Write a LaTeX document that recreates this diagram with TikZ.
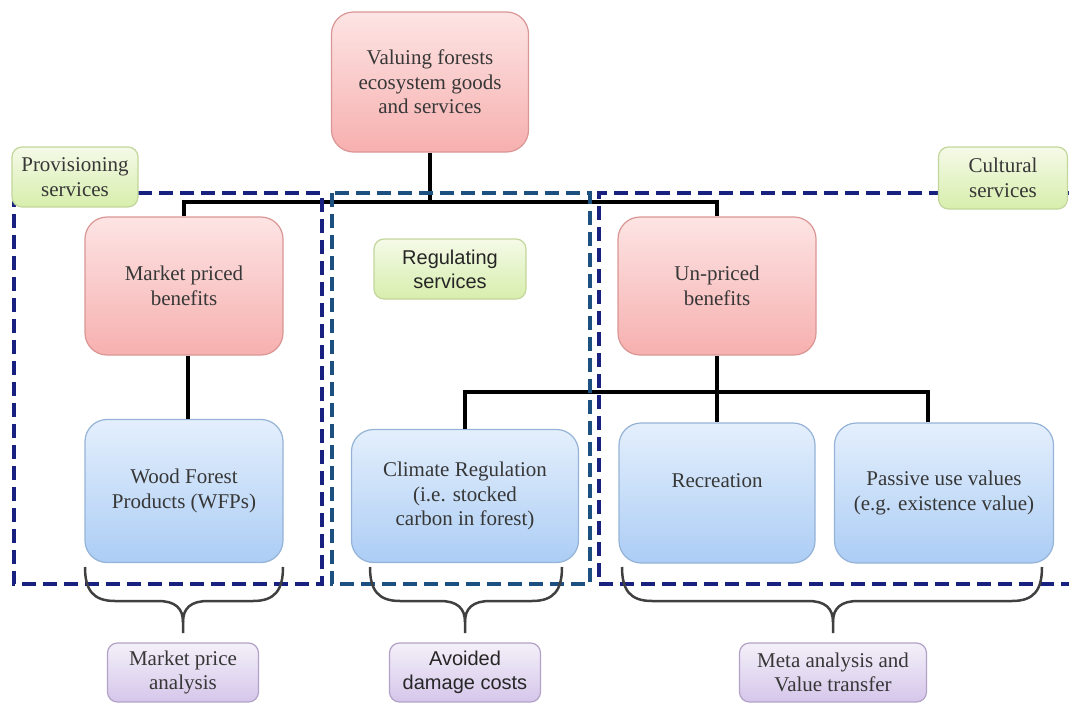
\documentclass[tikz,border=0pt]{standalone}
\usepackage{fontspec}
\setmainfont{Liberation Serif}
\setsansfont{Liberation Sans}
\usetikzlibrary{positioning}

\definecolor{navyd}{RGB}{24,32,128}
\definecolor{tealb}{RGB}{28,80,128}
\definecolor{redline}{RGB}{217,150,148}
\definecolor{redtop}{RGB}{253,228,228}
\definecolor{redbot}{RGB}{246,176,175}
\definecolor{blueline}{RGB}{149,179,215}
\definecolor{bluetop}{RGB}{228,239,252}
\definecolor{bluebot}{RGB}{172,205,245}
\definecolor{greenline}{RGB}{195,214,155}
\definecolor{greentop}{RGB}{245,250,232}
\definecolor{greenbot}{RGB}{215,238,172}
\definecolor{purpline}{RGB}{179,162,199}
\definecolor{purptop}{RGB}{244,240,249}
\definecolor{purpbot}{RGB}{213,198,234}
\definecolor{txt}{RGB}{55,55,55}

\tikzset{
    box/.style={rounded corners=22pt, line width=1.2pt, align=center,
        text=txt, inner sep=0pt,
        font=\fontsize{21}{24.5}\selectfont},
    redbox/.style={box, draw=redline, top color=redtop, bottom color=redbot,
        minimum width=198pt, minimum height=138pt},
    bluebox/.style={box, draw=blueline, top color=bluetop, bottom color=bluebot,
        minimum height=140pt},
    greenbox/.style={box, rounded corners=10pt, draw=greenline,
        top color=greentop, bottom color=greenbot, minimum height=60pt},
    purpbox/.style={box, rounded corners=10pt, draw=purpline,
        top color=purptop, bottom color=purpbot, minimum height=59pt},
    conn/.style={line width=3.5pt, black},
    dashbox/.style={line width=4.5pt, dash pattern=on 14pt off 7pt},
    grp/.style={line width=2.5pt, black!75}
}

% brace under a group: left x, right x, tip x
\newcommand{\grpbrace}[3]{%
    \draw[grp] (#1,567) .. controls (#1,590) and ({#1+8},601) .. ({#1+30},601)
        -- ({#3-25},601) .. controls ({#3-8},601) and (#3,608) .. (#3,622)
        -- (#3,633);
    \draw[grp] (#2,567) .. controls (#2,590) and ({#2-8},601) .. ({#2-30},601)
        -- ({#3+25},601) .. controls ({#3+8},601) and (#3,608) .. (#3,622);
}

\begin{document}
\begin{tikzpicture}[x=1pt, y=-1pt,
            node distance = 200pt,
            on grid]

        \useasboundingbox (0,0) rectangle (1069,704);

        % Top
        \node (top) [redbox, minimum width=197pt, minimum height=140pt]
            at (430,82) {Valuing forests\\ecosystem goods\\and services};

        % Benefits
        \node (market) [redbox,
            below left = 204pt and 246pt of top] {Market priced\\benefits};
        \node (unpriced) [redbox,
            below right = 204pt and 287pt of top] {Un-priced\\benefits};

        % Goods and services
        \node (wood) [bluebox, minimum width=198pt, minimum height=143pt,
            below = 205pt of market] {Wood Forest\\Products (WFPs)};
        \node (recreation) [bluebox, minimum width=196pt,
            below = 207pt of unpriced] {Recreation\\\mbox{}};
        \node (passive) [bluebox, minimum width=219pt,
            right = 227pt of recreation] {Passive use values\\(e.g. existence value)};
        \node (climate) [bluebox, minimum width=227pt, minimum height=133pt,
            below left = 210pt and 252pt of unpriced]
            {Climate Regulation\\(i.e. stocked\\carbon in forest)};

        % Connectors
        \coordinate (j1) at (430,202);
        \coordinate (j2) at (717,392);
        \draw[conn] (top.south) -- (j1);
        \draw[conn] (market.north) |- (j1) -| (unpriced.north);
        \draw[conn] ([xshift=4pt]market.south) -- ([xshift=4pt]wood.north);
        \draw[conn] (unpriced.south) -- (recreation.north);
        \draw[conn] (climate.north) |- (j2) -| ([xshift=-16pt]passive.north);

        % Service groups
        \draw[dashbox, navyd] (14,193) rectangle (322,584);
        \draw[dashbox, tealb] (332,193) rectangle (590,584);
        \draw[dashbox, navyd] (1069,193) -| (599,584) -- (1069,584);

        % Braces
        \grpbrace{85}{283}{183}
        \grpbrace{370}{562}{465}
        \grpbrace{622}{1042}{833}

        % Service labels
        \node (prov) [greenbox, minimum width=126pt] at (75,177)
            {Provisioning\\services};
        \node (regulating) [greenbox, minimum width=152pt,
            font=\sffamily\fontsize{20}{24}\selectfont, text=black!85]
            at (450,269) {Regulating\\services};
        \node (cultural) [greenbox, minimum width=129pt, minimum height=62pt]
            at (1003,178) {Cultural\\services};

        % Valuation methods
        \node (mpa) [purpbox, minimum width=151pt] at (183,672.5)
            {Market price\\analysis};
        \node (adc) [purpbox, minimum width=151pt,
            font=\sffamily\fontsize{20}{24}\selectfont, text=black!85]
            at (465,672.5) {Avoided\\damage costs};
        \node (meta) [purpbox, minimum width=187pt] at (833,672.5)
            {Meta analysis and\\Value transfer};
\end{tikzpicture}
\end{document}
